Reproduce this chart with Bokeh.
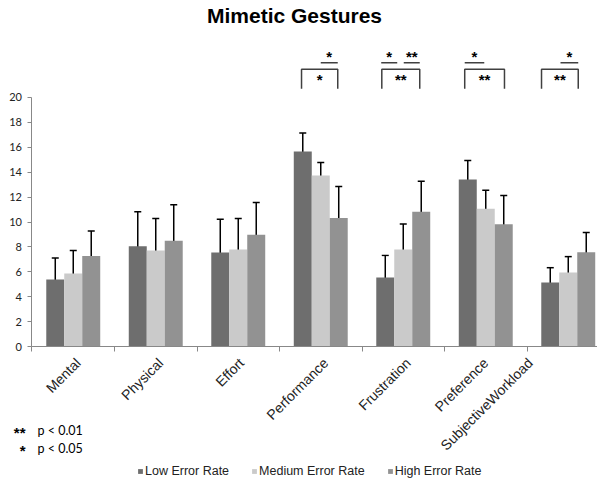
import math
from bokeh.plotting import figure
from bokeh.models import (Range1d, FixedTicker, ColumnDataSource, Whisker, TeeHead,
                          Legend, LegendItem, Label)
from bokeh.core.properties import value
from bokeh.embed import file_html
from bokeh.resources import INLINE

# ---------------- data ----------------
categories = ["Mental", "Physical", "Effort", "Performance", "Frustration",
              "Preference", "SubjectiveWorkload"]
series_names = ["Low Error Rate", "Medium Error Rate", "High Error Rate"]

low_mean = [5.38, 8.06, 7.55, 15.66, 5.54, 13.41, 5.14]
low_err = [1.73, 2.77, 2.67, 1.49, 1.78, 1.53, 1.19]
med_mean = [5.86, 7.72, 7.79, 13.73, 7.79, 11.06, 5.94]
med_err = [1.86, 2.57, 2.50, 1.05, 2.05, 1.49, 1.28]
high_mean = [7.28, 8.49, 8.97, 10.32, 10.82, 9.82, 7.57]
high_err = [1.99, 2.90, 2.59, 2.53, 2.45, 2.30, 1.58]

y_ticks = [0, 2, 4, 6, 8, 10, 12, 14, 16, 18, 20]

# significance marks: (category index, start offset, end offset, label)
sig_lines = [(3, 0.0, 0.206, "*"),
             (4, -0.267, -0.073, "*"),
             (4, 0.006, 0.200, "**"),
             (5, -0.255, -0.018, "*"),
             (6, -0.094, 0.121, "*")]
sig_brackets = [(3, -0.233, 0.206, "*"),
                (4, -0.260, 0.200, "**"),
                (5, -0.255, 0.227, "**"),
                (6, -0.324, 0.121, "**")]
notes = [("**", "p < 0.01"), ("*", "p < 0.05")]
title_text = "Mimetic Gestures"

colors = ["#6e6e6e", "#cacaca", "#929292"]
BW = 0.218
offsets = [-BW, 0.0, BW]

W, H = 597, 479
p = figure(width=W, height=H, x_range=Range1d(-0.3818, 6.8545), y_range=Range1d(-10.68, 27.79),
           output_backend="svg", toolbar_location=None,
           min_border_left=0, min_border_right=0, min_border_top=0, min_border_bottom=0)
p.outline_line_color = None
p.xgrid.visible = False
p.ygrid.visible = False

# title (placed inside the frame, which spans the whole canvas)
p.add_layout(Label(x=294, y=H - 15, x_units="screen", y_units="screen", text=title_text,
                   text_font="Liberation Sans", text_font_size="21px", text_font_style="bold",
                   text_align="center", text_baseline="alphabetic", text_color="#000000"))

renderers = []
for means, errs, off, col in zip([low_mean, med_mean, high_mean],
                                 [low_err, med_err, high_err], offsets, colors):
    xs = [i + 0.5 + off for i in range(len(categories))]
    src = ColumnDataSource(dict(x=xs, top=means,
                                upper=[m + e for m, e in zip(means, errs)],
                                lower=[m - e for m, e in zip(means, errs)]))
    r = p.vbar(x="x", top="top", width=BW, bottom=0, source=src,
               fill_color=col, line_color=None)
    renderers.append(r)
    w = Whisker(base="x", upper="upper", lower="lower", source=src,
                line_color="black", line_width=1.5,
                upper_head=TeeHead(size=7, line_color="black", line_width=1.5),
                lower_head=TeeHead(size=7, line_color="black", line_width=1.5))
    p.add_layout(w)

# significance lines
LINE_Y = 22.79
STAR_TOP_Y = 23.43
BR_TOP = 22.27
BR_BOT = 20.70
STAR_IN_Y = 21.58
STAR_FONT = "Liberation Sans"
STAR_SIZE = "15px"
STAR_DY = 1.5
xs_l, ys_l = [], []
st_x, st_y, st_t = [], [], []
for ci, a, b, lab in sig_lines:
    xs_l.append([ci + 0.5 + a, ci + 0.5 + b])
    ys_l.append([LINE_Y, LINE_Y])
    st_x.append(ci + 0.5 + (a + b) / 2)
    st_y.append(STAR_TOP_Y)
    st_t.append(lab)
for ci, a, b, lab in sig_brackets:
    xs_l.append([ci + 0.5 + a, ci + 0.5 + a, ci + 0.5 + b, ci + 0.5 + b])
    ys_l.append([BR_BOT, BR_TOP, BR_TOP, BR_BOT])
    st_x.append(ci + 0.5 + (a + b) / 2)
    st_y.append(STAR_IN_Y)
    st_t.append(lab)
p.multi_line(xs=xs_l, ys=ys_l, line_color="#404040", line_width=1.5)
p.text(x=st_x, y=st_y, text=st_t, text_font=value(STAR_FONT), text_font_size=STAR_SIZE,
       text_font_style="bold", y_offset=STAR_DY,
       text_align="center", text_baseline="alphabetic", text_color="#000000")

# axes (fixed at the data origin, drawn inside the canvas-wide frame)
p.yaxis.fixed_location = 0
p.yaxis.ticker = FixedTicker(ticks=y_ticks)
p.yaxis.bounds = (0, 20)
p.yaxis.axis_line_color = "#888888"
p.yaxis.major_tick_line_color = "#888888"
p.yaxis.major_tick_out = 4
p.yaxis.major_tick_in = 0
p.yaxis.minor_tick_line_color = None
p.yaxis.major_label_standoff = 6
p.yaxis.major_label_text_font = "Lato"
p.yaxis.major_label_text_font_size = "11px"
p.yaxis.major_label_text_color = "#222222"

# label anchor shifts (category units) for the rotated category labels
label_shift = [0.06, 0.06, 0.04, 0.06, 0.06, 0.0, -0.46]
label_pos = [i + 0.5 + s for i, s in enumerate(label_shift)]
bounds_t = [float(i) for i in range(len(categories) + 1)]
p.xaxis.fixed_location = 0
p.xaxis.bounds = (0, 6.8545)
p.xaxis.ticker = FixedTicker(ticks=label_pos, minor_ticks=bounds_t)
p.xaxis.major_label_overrides = {c: n for c, n in zip(label_pos, categories)}
p.xaxis.major_tick_line_color = None
p.xaxis.minor_tick_line_color = "#888888"
p.xaxis.minor_tick_out = 5
p.xaxis.minor_tick_in = 0
p.xaxis.axis_line_color = "#888888"
p.xaxis.major_label_orientation = math.pi / 4
p.xaxis.major_label_text_font = "Liberation Sans"
p.xaxis.major_label_text_font_size = "14px"
p.xaxis.major_label_text_color = "#222222"
p.xaxis.major_label_standoff = 8

# legend
legend = Legend(items=[LegendItem(label=n, renderers=[r]) for n, r in zip(series_names, renderers)],
                orientation="horizontal", location=(137, 1),
                glyph_width=6, glyph_height=6, label_standoff=2, spacing=22,
                padding=0, margin=0, border_line_color=None, background_fill_alpha=0,
                label_text_font="Liberation Sans", label_text_font_size="12.5px",
                label_text_color="#222222", label_height=12)
p.add_layout(legend, "center")

# notes
for k, (stars, txt) in enumerate(notes):
    yy = H - 430 - 18 * k
    p.add_layout(Label(x=25, y=yy, x_units="screen", y_units="screen", text=stars,
                       text_font=STAR_FONT, text_font_size=STAR_SIZE, text_font_style="bold",
                       y_offset=-STAR_DY,
                       text_align="right", text_baseline="alphabetic", text_color="#000000"))
    p.add_layout(Label(x=37, y=yy, x_units="screen", y_units="screen", text=txt,
                       text_font="Lato", text_font_size="12.5px", text_align="left",
                       text_baseline="middle", text_color="#000000"))

open("out.html", "w").write(file_html(p, INLINE))
